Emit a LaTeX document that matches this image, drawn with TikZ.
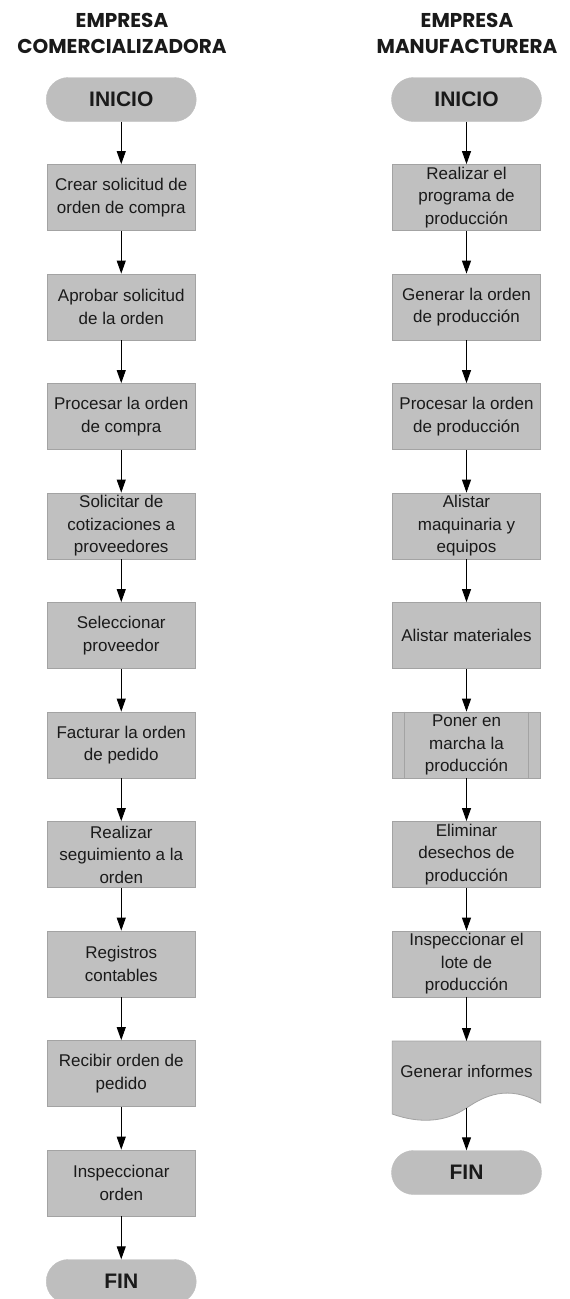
\documentclass[tikz,border=0pt]{standalone}
\usepackage{fontspec}
\setmainfont{Liberation Sans}
\newfontfamily\headfont{Poppins}
\usetikzlibrary{arrows.meta}

\definecolor{boxfill}{HTML}{C0C0C0}
\definecolor{boxline}{HTML}{A3A3A3}
\definecolor{termfill}{HTML}{BEBEBE}
\definecolor{inktext}{HTML}{1A1A1A}

\tikzset{
  head/.style={font=\headfont\bfseries\fontsize{20}{26}\selectfont, text=inktext, inner sep=0pt, anchor=base},
  terminal/.style={fill=termfill, draw=termfill, rounded corners=22pt, minimum width=150pt, minimum height=44pt,
    inner sep=0pt, font=\bfseries\fontsize{21}{24}\selectfont, text=inktext},
  procbox/.style={fill=boxfill, draw=boxline, line width=0.8pt, minimum width=148.5pt, minimum height=66pt,
    inner sep=0pt, align=center, font=\fontsize{17}{22.5}\selectfont, text=inktext},
  flow/.style={draw=black, line width=1pt, -{Triangle[width=9pt,length=13pt]}},
}

\begin{document}
\begin{tikzpicture}[x=1pt,y=-1pt]
\useasboundingbox (0,0) rectangle (570,1299);

% column headings
\node[head] (hl1) at (122,27) {EMPRESA};
\node[head] (hl2) at (122,53) {COMERCIALIZADORA};
\node[head] (hr1) at (467,27) {EMPRESA};
\node[head] (hr2) at (467,53) {MANUFACTURERA};

% ---- trading company ----
\node[terminal] (l0) at (121.25,99.5) {INICIO};
\node[procbox] (l1) at (121.25,197.5) {Crear solicitud de\\orden de compra};
\node[procbox] (l2) at (121.25,307) {Aprobar solicitud\\de la orden};
\node[procbox] (l3) at (121.25,416.5) {Procesar la orden\\de compra};
\node[procbox] (l4) at (121.25,526) {Solicitar de\\cotizaciones a\\proveedores};
\node[procbox] (l5) at (121.25,635.5) {Seleccionar\\proveedor};
\node[procbox] (l6) at (121.25,745) {Facturar la orden\\de pedido};
\node[procbox] (l7) at (121.25,854.5) {Realizar\\seguimiento a la\\orden};
\node[procbox] (l8) at (121.25,964) {Registros\\contables};
\node[procbox] (l9) at (121.25,1073.5) {Recibir orden de\\pedido};
\node[procbox] (l10) at (121.25,1183) {Inspeccionar\\orden};
\node[terminal] (l11) at (121.25,1281.5) {FIN};

\foreach \a/\b in {l0/l1,l1/l2,l2/l3,l3/l4,l4/l5,l5/l6,l6/l7,l7/l8,l8/l9,l9/l10,l10/l11}
  \draw[flow] (\a) -- (\b);

% ---- manufacturing company ----
\node[terminal] (r0) at (466.5,99.5) {INICIO};
\node[procbox] (r1) at (466.5,197.5) {Realizar el\\programa de\\producción};
\node[procbox] (r2) at (466.5,307) {Generar la orden\\de producción};
\node[procbox] (r3) at (466.5,416.5) {Procesar la orden\\de producción};
\node[procbox] (r4) at (466.5,526) {Alistar\\maquinaria y\\equipos};
\node[procbox] (r5) at (466.5,635.5) {Alistar materiales};
% predefined process
\node[procbox] (r6) at (466.5,745) {Poner en\\marcha la\\producción};
\draw[boxline, line width=0.8pt] (r6.north west) ++(13,0) -- ++(0,66);
\draw[boxline, line width=0.8pt] (r6.north east) ++(-13,0) -- ++(0,66);
\node[procbox] (r7) at (466.5,854.5) {Eliminar\\desechos de\\producción};
\node[procbox] (r8) at (466.5,964) {Inspeccionar el\\lote de\\producción};
% document shape
\draw[fill=boxfill, draw=boxline, line width=0.8pt]
  (392.25,1041) -- (540.75,1041) -- (540.75,1103)
  .. controls (508,1084) and (484,1096) .. (466.5,1108)
  .. controls (446,1122) and (420,1124) .. (392.25,1114) -- cycle;
\node[font=\fontsize{17}{22.5}\selectfont, text=inktext, inner sep=0pt] (r9) at (466.5,1071) {Generar informes};
\coordinate (r9top) at (466.5,1041);
\coordinate (r9bot) at (466.5,1108);
\node[terminal] (r10) at (466.5,1172.5) {FIN};

\foreach \a/\b in {r0/r1,r1/r2,r2/r3,r3/r4,r4/r5,r5/r6,r6/r7,r7/r8}
  \draw[flow] (\a) -- (\b);
\draw[flow] (r8) -- (r9top);
\draw[flow] (r9bot) -- (r10);
\end{tikzpicture}
\end{document}
